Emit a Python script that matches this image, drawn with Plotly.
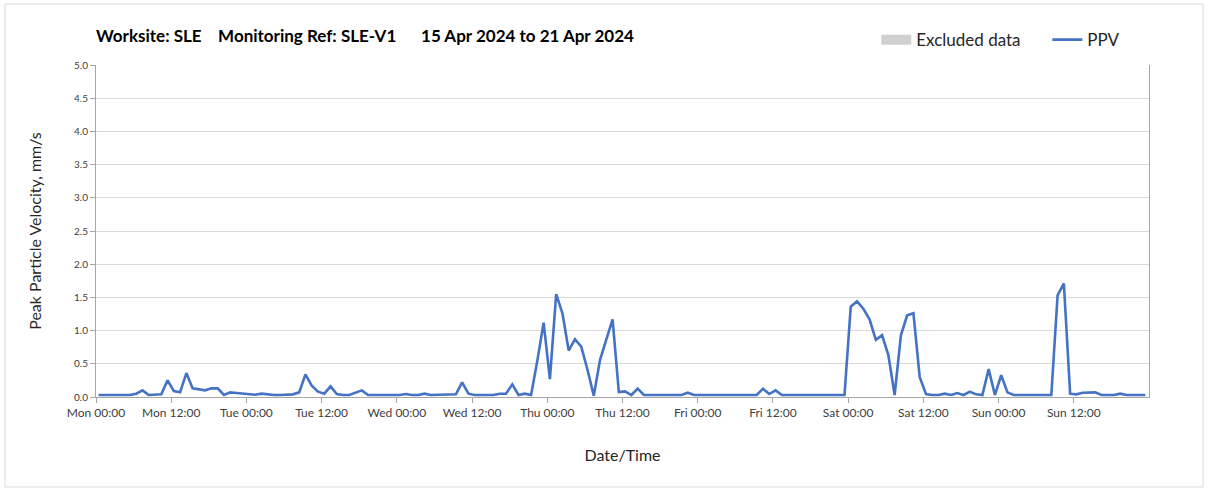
import pandas as pd
import plotly.graph_objects as go

# hourly PPV readings (mm/s), one list per day, Mon 15 Apr -> Sun 21 Apr 2024
mon = [0.03, 0.03, 0.03, 0.03, 0.03, 0.03, 0.05, 0.10, 0.03, 0.03, 0.04, 0.25,
       0.09, 0.07, 0.36, 0.13, 0.12, 0.10, 0.13, 0.13, 0.03, 0.07, 0.06, 0.05]
tue = [0.04, 0.035, 0.05, 0.035, 0.03, 0.03, 0.03, 0.04, 0.07, 0.34, 0.17, 0.08,
       0.05, 0.16, 0.045, 0.03, 0.03, 0.07, 0.10, 0.03, 0.03, 0.03, 0.03, 0.03]
wed = [0.03, 0.045, 0.03, 0.03, 0.05, 0.03, 0.03, 0.03, 0.03, 0.04, 0.22, 0.05,
       0.03, 0.03, 0.03, 0.03, 0.05, 0.05, 0.19, 0.03, 0.05, 0.03, 0.55, 1.12]
thu = [0.27, 1.55, 1.26, 0.70, 0.87, 0.76, 0.41, 0.02, 0.56, 0.88, 1.17, 0.075,
       0.085, 0.03, 0.125, 0.03, 0.03, 0.03, 0.03, 0.03, 0.03, 0.03, 0.065, 0.03]
fri = [0.03, 0.03, 0.03, 0.03, 0.03, 0.03, 0.03, 0.03, 0.03, 0.03, 0.125, 0.045,
       0.10, 0.03, 0.03, 0.03, 0.03, 0.03, 0.03, 0.03, 0.03, 0.03, 0.03, 0.03]
sat = [1.36, 1.44, 1.33, 1.17, 0.86, 0.93, 0.63, 0.03, 0.93, 1.23, 1.26, 0.30,
       0.045, 0.03, 0.03, 0.05, 0.03, 0.06, 0.03, 0.08, 0.04, 0.03, 0.42, 0.03]
sun = [0.33, 0.07, 0.03, 0.03, 0.03, 0.03, 0.03, 0.03, 0.03, 1.53, 1.71, 0.05,
       0.04, 0.065, 0.07, 0.07, 0.03, 0.03, 0.03, 0.05, 0.03, 0.03, 0.03, 0.03]

ppv = mon + tue + wed + thu + fri + sat + sun
times = pd.date_range("2024-04-15 00:25", periods=len(ppv), freq="h")

x_start = "2024-04-15 00:00"
x_end = "2024-04-22 00:00"
# labelled ticks every 12 h, but not the closing Mon 00:00
label_ticks = pd.date_range(x_start, periods=14, freq="12h")

FONT = "Lato, 'Open Sans', sans-serif"
NB = "\u00a0"
title = ("Worksite: SLE" + NB * 4 + "Monitoring Ref: SLE-V1" + NB * 6
         + "15 Apr 2024 to 21 Apr 2024")

fig = go.Figure()

# legend-only entry for excluded periods (none in this week)
fig.add_trace(go.Scatter(
    x=[None], y=[None], name="Excluded data" + NB * 5, mode="lines",
    line=dict(color="#d0d0d0", width=12),
))

fig.add_trace(go.Scatter(
    x=times, y=ppv, name="PPV", mode="lines",
    line=dict(color="#4472C4", width=2.6),
))

fig.update_layout(
    width=1208, height=492,
    margin=dict(l=96, r=59, t=65, b=95),
    paper_bgcolor="white", plot_bgcolor="white",
    font=dict(family=FONT, color="#262626"),
    title=dict(text="<b>" + title + "</b>", x=0, xref="paper", xanchor="left",
               y=1 - 36 / 492, yref="container", yanchor="middle",
               font=dict(size=17, color="#000000")),
    showlegend=True,
    legend=dict(orientation="h", x=0.741, xanchor="left", y=1.075, yanchor="middle",
                font=dict(size=17, color="#262626"), bgcolor="rgba(0,0,0,0)",
                itemwidth=30, tracegroupgap=0),
    xaxis=dict(
        type="date", range=[x_start, x_end], tickvals=label_ticks,
        tickformat="%a %H:%M", showgrid=False, showline=True, linecolor="#a6a6a6",
        ticks="outside", ticklen=5, tickcolor="#a6a6a6", zeroline=False,
        tickfont=dict(size=12, color="#404040"),
        title=dict(text="Date/Time", font=dict(size=16, color="#262626"), standoff=30),
    ),
    xaxis2=dict(
        type="date", range=[x_start, x_end], dtick=24 * 3600 * 1000, tick0=x_start,
        overlaying="x", showgrid=True, gridcolor="#d9d9d9", gridwidth=1,
        showticklabels=False, ticks="", showline=False, zeroline=False,
    ),
    yaxis=dict(
        range=[0, 5], dtick=0.5, tickformat=".1f", showgrid=True, gridcolor="#d9d9d9",
        showline=True, linecolor="#a6a6a6", ticks="outside", ticklen=5,
        tickcolor="#a6a6a6", zeroline=False, mirror=True,
        tickfont=dict(size=10, color="#404040"),
        title=dict(text="Peak Particle Velocity, mm/s", font=dict(size=16, color="#262626"),
                   standoff=28),
    ),
)

# outer chart border
fig.add_shape(type="rect", xref="paper", yref="paper",
              x0=-0.0864, x1=1.0513, y0=-0.271, y1=1.1837,
              line=dict(color="#d9d9d9", width=1), fillcolor="rgba(0,0,0,0)", layer="below")

fig.write_html("out.html", config={"displayModeBar": False},
               post_script="document.body.style.margin='0';")
